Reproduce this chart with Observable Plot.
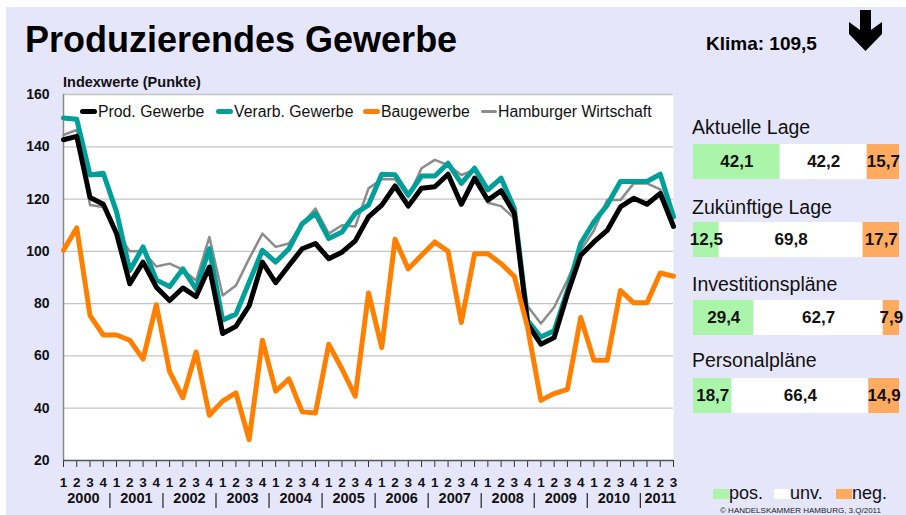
<!DOCTYPE html>
<html><head><meta charset="utf-8">
<script src="https://cdn.jsdelivr.net/npm/d3@7"></script>
<script src="https://cdn.jsdelivr.net/npm/@observablehq/plot@0.6"></script>
<style>
body{margin:0;background:#fff;font-family:"Liberation Sans",Arial,sans-serif;color:#111;}
#page{position:relative;width:906px;height:515px;overflow:hidden;background:#fff;}
#bg{position:absolute;left:6px;top:7px;right:0;bottom:0;background:#e6e6fa;}
.abs{position:absolute;white-space:nowrap;line-height:1;}
#title{left:25px;top:22px;font-size:36px;font-weight:bold;color:#000;}
#klima{left:706px;top:34px;font-size:19px;font-weight:bold;color:#000;}
#ylab{left:63px;top:75px;font-size:14.5px;font-weight:bold;color:#111;}
.lg{position:absolute;top:103px;height:17px;display:flex;align-items:center;font-size:15.8px;color:#111;}
.sw{display:inline-block;margin-right:1px;border-radius:3px;}
.plabel{position:absolute;left:692px;font-size:19.5px;color:#111;line-height:1;}
.pbar{position:absolute;left:693px;}
.bl{position:absolute;top:483px;display:flex;align-items:center;font-size:18px;color:#111;}
.bsw{display:inline-block;width:16px;height:10px;}
#copy{left:720px;top:507px;font-size:8px;color:#222;}
</style></head>
<body><div id="page"><div id="bg"></div>
<div class="abs" id="title">Produzierendes Gewerbe</div>
<div class="abs" id="klima">Klima: 109,5</div>
<svg class="abs" style="left:846px;top:8px" width="40" height="46" viewBox="846 8 40 46">
<polygon points="860,10 871,10 871,30 882,22 882,34 865.5,51 849,34 849,22 860,30" fill="#000"/></svg>
<div class="abs" id="ylab">Indexwerte (Punkte)</div>
<div id="chart" style="position:absolute;left:0;top:70px;"></div>
<div id="legend"></div>
<div id="panel"></div>
<div id="blegend"></div>
<div class="abs" id="copy">© HANDELSKAMMER HAMBURG, 3.Q/2011</div>
</div>
<script>
// ---- data ----
const years = [2000,2001,2002,2003,2004,2005,2006,2007,2008,2009,2010,2011];
const quartersPerYear = [4,4,4,4,4,4,4,4,4,4,4,3];
const quarterLabels = ["1","2","3","4","1","2","3","4","1","2","3","4","1","2","3","4","1","2","3","4","1","2","3","4","1","2","3","4","1","2","3","4","1","2","3","4","1","2","3","4","1","2","3","4","1","2","3"];
const yTicks = [20,40,60,80,100,120,140,160];

const prodGewerbe = [142.7,144,120.6,118,106.8,87.6,95.9,86.3,81.2,86,82.7,94,68.6,71.3,79.2,95.9,88,94.6,101,103,97.2,99.7,104,113.2,117.7,125,117.3,124.1,124.7,129.5,118,128,119.6,123.2,114.5,72.2,64.5,67,83.7,98.5,103.6,108,117,120.3,118,122.2,109.5];
const verarbGewerbe = [151,150.5,129.2,129.9,115.1,92.7,101.7,89.1,86.5,93.3,85.6,101,73.7,76,88.2,100.4,95.9,101,110.6,114.5,104.9,107.4,114.5,117.7,129.5,129.3,121.5,128.8,128.8,133.7,126,131.8,123.5,128,116.4,73.5,67.2,69.6,85,103,111.3,117.7,126.7,126.7,126.7,129.5,113.2];
const baugewerbe = [100.4,109,75.4,68,68,66,58.8,79.6,54,44,61.5,37.3,42.7,45.9,28,66,46.5,51.2,38.6,38.2,64.5,55,44.6,84.1,63.2,104.6,93.3,98.5,103.6,100,72.8,99.1,99.1,95.3,90.4,70.9,43,45.6,47.2,74.7,58.3,58.3,85,80.3,80.3,91.7,90.5];
const hamburgerWirtschaft = [144.5,146.5,117.7,117,107.5,100,100,94.2,95.3,93,88.8,105.5,83.1,86.9,97.2,106.8,101.7,103,110.6,116.4,106.8,110,109.5,124.1,127.6,127.6,120.9,131.8,135,133,129.2,131.2,118.6,117.3,112.6,79,72.4,78.6,89,100.4,108,119.6,119.6,126,126,123.7,113];

const seriesNames = ["Prod. Gewerbe","Verarb. Gewerbe","Baugewerbe","Hamburger Wirtschaft"];
const seriesColors = ["#000000","#009f9a","#ff8000","#8c8c8c"];
const seriesWidths = [5,5,5,2.5];

const panelLabels = ["Aktuelle Lage","Zukünftige Lage","Investitionspläne","Personalpläne"];
const posValues = [42.1,12.5,29.4,18.7];
const unvValues = [42.2,69.8,62.7,66.4];
const negValues = [15.7,17.7,7.9,14.9];
const panelTypes = ["pos.","unv.","neg."];
const panelColors = ["#abf5ab","#ffffff","#ffab5f"];

// ---- main chart ----
const idx = quarterLabels.map((_, i) => i);
const yearStart = [];
quartersPerYear.reduce((acc, n) => { yearStart.push(acc); return acc + n; }, 0);
const yearMid = years.map((y, j) => yearStart[j] + (quartersPerYear[j] - 1) / 2);
const seps = yearStart.slice(1).map(s => s - 0.5);
const allSeries = [prodGewerbe, verarbGewerbe, baugewerbe, hamburgerWirtschaft];
const drawOrder = [3, 1, 0, 2];

const chart = Plot.plot({
  width: 690, height: 445,
  marginLeft: 63, marginRight: 17, marginTop: 24, marginBottom: 55,
  style: {background: "transparent", fontFamily: "Liberation Sans, Arial, sans-serif", fontSize: "13px", fontWeight: "bold", color: "#111", overflow: "visible"},
  x: {type: "linear", domain: [0, idx.length - 1]},
  y: {domain: [20, 160]},
  marks: [
    Plot.frame({fill: "white", stroke: null}),
    Plot.gridY(yTicks.slice(1), {stroke: "#c4c4c4", strokeOpacity: 1, strokeWidth: 1.3}),
    Plot.axisY(yTicks, {tickSize: 0, tickPadding: 14, label: null, fontSize: 14, fontWeight: "bold"}),
    Plot.axisX(idx, {tickSize: 7, tickPadding: 10, tickFormat: i => quarterLabels[i], label: null, stroke: "#333", fontSize: 13.5, fontWeight: "bold"}),
    Plot.ruleX([0], {stroke: "#888", strokeWidth: 1.5}),
    Plot.ruleY([20], {stroke: "#555", strokeWidth: 1.5}),
    Plot.ruleX(seps, {x: d => d, insetTop: 399, insetBottom: -48, stroke: "#333", strokeWidth: 1.3}),
    Plot.text(years, {x: (d, j) => yearMid[j], text: d => String(d), frameAnchor: "bottom", dy: 42, fontSize: 14.5, fontWeight: "bold", fill: "#111"}),
    ...drawOrder.map(k => Plot.lineY(allSeries[k], {x: (d, i) => i, y: d => d, stroke: seriesColors[k], strokeWidth: seriesWidths[k], strokeLinejoin: "round", strokeLinecap: "round"}))
  ]
});
document.getElementById("chart").appendChild(chart);

// ---- legend (inside plot) ----
const legendLeft = [80, 216, 363, 481];
const legend = document.getElementById("legend");
seriesNames.forEach((name, k) => {
  const it = document.createElement("div");
  it.className = "lg";
  it.style.left = legendLeft[k] + "px";
  const sw = document.createElement("span");
  sw.className = "sw";
  sw.style.width = (k === 3 ? 16 : 17) + "px";
  sw.style.height = (k === 3 ? 3 : 5) + "px";
  sw.style.background = seriesColors[k];
  it.appendChild(sw);
  it.appendChild(document.createTextNode(name));
  legend.appendChild(it);
});

// ---- right panel ----
const fmt = v => v.toFixed(1).replace(".", ",");
const labelTops = [118, 198, 275, 351];
const barTops = [144, 222, 300, 378];
const panel = document.getElementById("panel");
panelLabels.forEach((lab, j) => {
  const l = document.createElement("div");
  l.className = "plabel";
  l.style.top = labelTops[j] + "px";
  l.textContent = lab;
  panel.appendChild(l);
  const rows = [
    {type: panelTypes[0], value: posValues[j]},
    {type: panelTypes[1], value: unvValues[j]},
    {type: panelTypes[2], value: negValues[j]}
  ];
  const p = Plot.plot({
    width: 206, height: 35, margin: 0,
    style: {background: "transparent", overflow: "visible", fontFamily: "Liberation Sans, Arial, sans-serif"},
    x: {domain: [0, 100], axis: null},
    color: {domain: panelTypes, range: panelColors},
    marks: [
      Plot.barX(rows, {x: "value", fill: "type", order: null}),
      Plot.text(rows, Plot.stackX({x: "value", z: "type", order: null, text: d => fmt(d.value), fontSize: 17, fontWeight: "bold", fill: "#111"}))
    ]
  });
  const wrap = document.createElement("div");
  wrap.className = "pbar";
  wrap.style.top = barTops[j] + "px";
  wrap.appendChild(p);
  panel.appendChild(wrap);
});

// ---- bottom legend ----
const blLeft = [713, 774, 836];
const bl = document.getElementById("blegend");
panelTypes.forEach((t, k) => {
  const it = document.createElement("div");
  it.className = "bl";
  it.style.left = blLeft[k] + "px";
  const sw = document.createElement("span");
  sw.className = "bsw";
  sw.style.background = panelColors[k];
  it.appendChild(sw);
  it.appendChild(document.createTextNode(t));
  bl.appendChild(it);
});
</script>
</body></html>
